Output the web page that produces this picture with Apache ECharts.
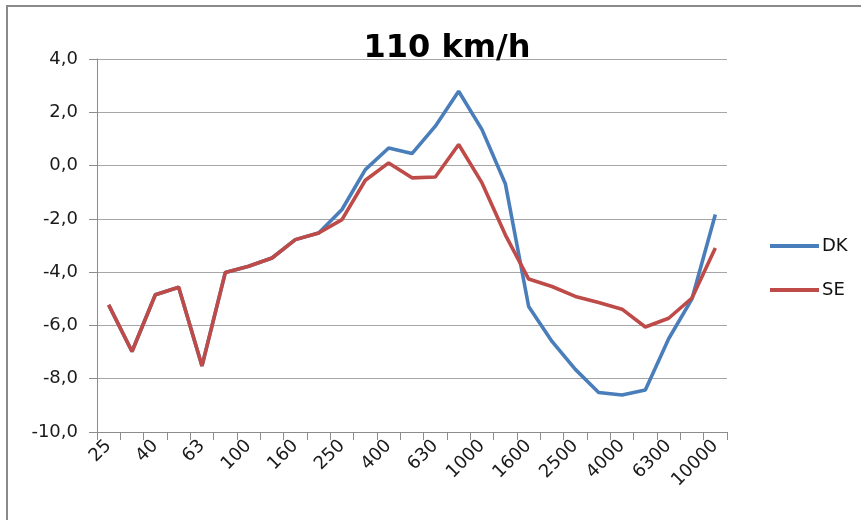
<!DOCTYPE html>
<html>
<head>
<meta charset="utf-8">
<script src="https://cdn.jsdelivr.net/npm/echarts@6/dist/echarts.min.js"></script>
<style>
html, body { margin: 0; padding: 0; background: #fff; }
#chart { width: 861px; height: 520px; }
</style>
</head>
<body>
<div id="chart"></div>
<script>
// third-octave bands, Hz
let bands = ['25', '31.5', '40', '50', '63', '80', '100', '125', '160', '200', '250', '315', '400',
    '500', '630', '800', '1000', '1250', '1600', '2000', '2500', '3150', '4000', '5000', '6300', '8000', '10000'];

let dkValues = [-5.23, -6.98, -4.85, -4.57, -7.52, -4.01, -3.78, -3.47, -2.78, -2.53, -1.65, -0.15, 0.66,
    0.45, 1.48, 2.79, 1.35, -0.68, -5.29, -6.6, -7.65, -8.52, -8.61, -8.42, -6.5, -5.0, -1.84];

let seValues = [-5.23, -6.98, -4.85, -4.57, -7.52, -4.01, -3.78, -3.47, -2.78, -2.53, -2.03, -0.55, 0.10,
    -0.46, -0.43, 0.79, -0.65, -2.6, -4.26, -4.54, -4.91, -5.14, -5.39, -6.06, -5.73, -4.97, -3.09];

// only every other band gets a label
let shownLabels = ['25', '40', '63', '100', '160', '250', '400', '630', '1000', '1600', '2500', '4000', '6300', '10000'];

let font = '"DejaVu Sans", sans-serif';

let chart = echarts.init(document.getElementById('chart'));
let option = {
    animation: false,
    title: {
        text: '110 km/h',
        left: 442,
        top: 28,
        textAlign: 'center',
        textStyle: { fontFamily: font, fontSize: 32, fontWeight: 'bold', color: '#000' }
    },
    legend: {
        orient: 'vertical',
        left: 770,
        top: 237,
        padding: 0,
        itemWidth: 49,
        itemHeight: 4,
        itemGap: 26,
        icon: 'rect',
        textStyle: { fontFamily: font, fontSize: 18, color: '#111', padding: [0, 0, 0, -2] },
        data: ['DK', 'SE']
    },
    graphic: [{
        type: 'rect',
        shape: { x: 7, y: 6, width: 900, height: 600 },
        style: { fill: null, stroke: '#8a8a8a', lineWidth: 2 },
        z: -1
    }],
    grid: { left: 97, right: 134, top: 59, bottom: 88, containLabel: false },
    xAxis: {
        type: 'category',
        data: bands,
        boundaryGap: true,
        axisLine: { onZero: false, lineStyle: { color: '#8c8c8c', width: 1 } },
        axisTick: { show: true, interval: 0, length: 8, lineStyle: { color: '#8c8c8c' } },
        axisLabel: {
            interval: 0,
            rotate: 45,
            margin: 11,
            fontFamily: font,
            fontSize: 18,
            color: '#1a1a1a',
            formatter: function (v) { return shownLabels.indexOf(v) >= 0 ? v : ''; }
        }
    },
    yAxis: {
        type: 'value',
        min: -10,
        max: 4,
        interval: 2,
        axisLine: { show: true, lineStyle: { color: '#8c8c8c' } },
        axisTick: { show: true, length: 8, lineStyle: { color: '#8c8c8c' } },
        splitLine: { lineStyle: { color: '#a6a6a6', width: 1 } },
        axisLabel: {
            margin: 19,
            fontFamily: font,
            fontSize: 18,
            color: '#1a1a1a',
            formatter: function (v) { return v.toFixed(1).replace('.', ','); }
        }
    },
    series: [
        {
            name: 'DK',
            type: 'line',
            symbol: 'none',
            data: dkValues,
            lineStyle: { color: '#4a7ebb', width: 3.6 },
            itemStyle: { color: '#4a7ebb' },
            z: 2
        },
        {
            name: 'SE',
            type: 'line',
            symbol: 'none',
            data: seValues,
            lineStyle: { color: '#be4b48', width: 3.6 },
            itemStyle: { color: '#be4b48' },
            z: 3
        }
    ]
};
chart.setOption(option);
</script>
</body>
</html>
